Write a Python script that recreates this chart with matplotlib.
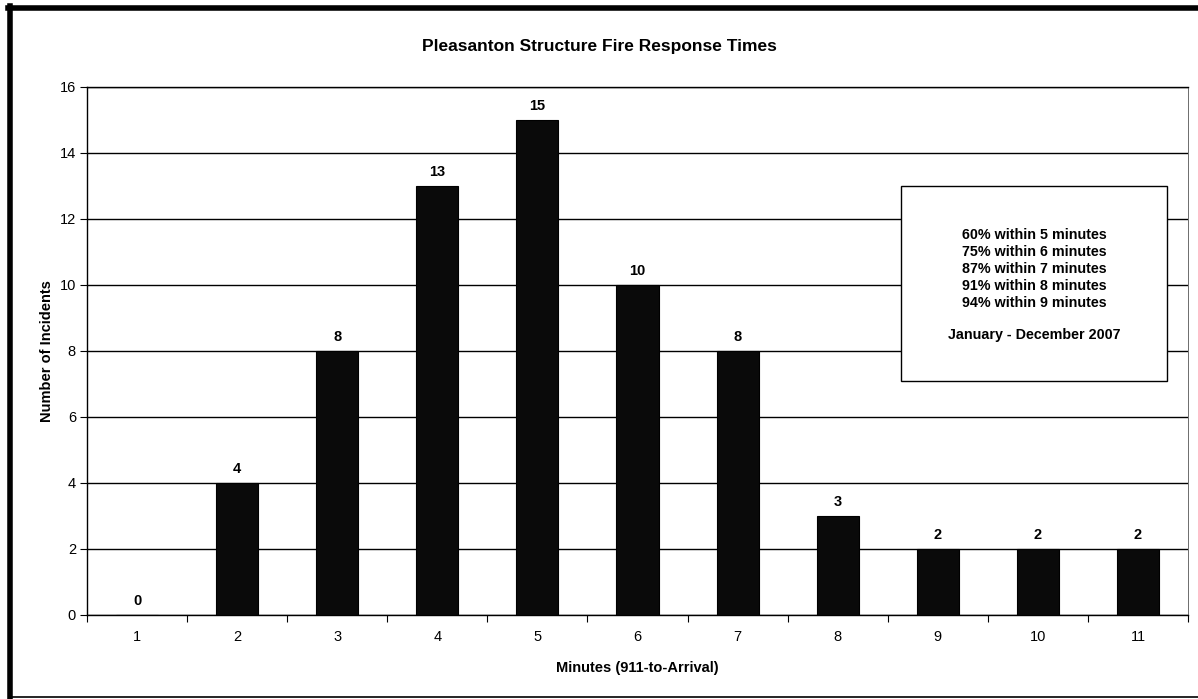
import numpy as np
import matplotlib.pyplot as plt
from matplotlib.patches import Rectangle
from matplotlib.lines import Line2D

# response time buckets (minutes) and incident counts
minutes = [1, 2, 3, 4, 5, 6, 7, 8, 9, 10, 11]
incidents = [0, 4, 8, 13, 15, 10, 8, 3, 2, 2, 2]

summary_lines = ['60% within 5 minutes', '75% within 6 minutes', '87% within 7 minutes',
                 '91% within 8 minutes', '94% within 9 minutes', '', 'January - December 2007']

plt.rcParams['font.family'] = ['Liberation Sans', 'DejaVu Sans']

fig = plt.figure(figsize=(11.98, 6.99), dpi=100)
ax = fig.add_axes([87/1198, 1 - 615/699, 1101/1198, 528/699])

x = np.array(minutes)
ax.bar(x, incidents, width=0.42, color='#0a0a0a', edgecolor='black', linewidth=0.8, zorder=3)
for xi, v in zip(x, incidents):
    ax.text(xi, v + 0.22, str(v), ha='center', va='bottom', fontsize=10.5, fontweight='bold')

ax.set_xlim(0.5, 11.5)
ax.set_ylim(0, 16)
ax.set_yticks(range(0, 17, 2))
ax.yaxis.grid(True, color='black', linewidth=1.0, zorder=0)
ax.set_axisbelow(True)

# category labels centred, tick marks on the boundaries
ax.set_xticks(x)
ax.set_xticklabels([str(m) for m in minutes])
ax.set_xticks(np.arange(0.5, 12, 1), minor=True)
ax.tick_params(axis='x', which='major', length=0, pad=11, labelsize=10.5)
ax.tick_params(axis='x', which='minor', length=5, direction='out', width=0.8)
ax.tick_params(axis='y', length=5, direction='out', width=0.8, labelsize=10.5, pad=3)

for s in ['left', 'bottom']:
    ax.spines[s].set_linewidth(1.0)
ax.spines['top'].set_linewidth(1.0)
ax.spines['right'].set_linewidth(0.6)
ax.spines['right'].set_color('#555555')

ax.set_xlabel('Minutes (911-to-Arrival)', fontsize=10.5, fontweight='bold', labelpad=12)
ax.set_ylabel('Number of Incidents', fontsize=10.5, fontweight='bold', labelpad=4)
fig.text(0.5, 1 - 47/699, 'Pleasanton Structure Fire Response Times',
         ha='center', va='center', fontsize=12.5, fontweight='bold')

# summary box
bx0, bx1 = (901 - 87) / 1101, (1167 - 87) / 1101
by0, by1 = (615 - 381) / 528, (615 - 186) / 528
box = Rectangle((bx0, by0), bx1 - bx0, by1 - by0, transform=ax.transAxes,
                facecolor='white', edgecolor='black', linewidth=1.0, zorder=5)
ax.add_patch(box)
cx = (bx0 + bx1) / 2
for i, line in enumerate(summary_lines):
    yy = (615 - (235 + 17 * i)) / 528
    if i == 6:
        yy = (615 - 335) / 528
    ax.text(cx, yy, line, transform=ax.transAxes, ha='center', va='center',
            fontsize=10.3, fontweight='bold', zorder=6)

# outer frame
fig.add_artist(Line2D([10/1198, 10/1198], [0, 1 - 6/699], transform=fig.transFigure,
                      color='black', linewidth=4))
fig.add_artist(Line2D([8/1198, 1], [1 - 8/699, 1 - 8/699], transform=fig.transFigure,
                      color='black', linewidth=4))
fig.add_artist(Line2D([10/1198, 1], [1 - 697/699, 1 - 697/699], transform=fig.transFigure,
                      color='black', linewidth=1.2))

fig.savefig('out.png', dpi=100)
